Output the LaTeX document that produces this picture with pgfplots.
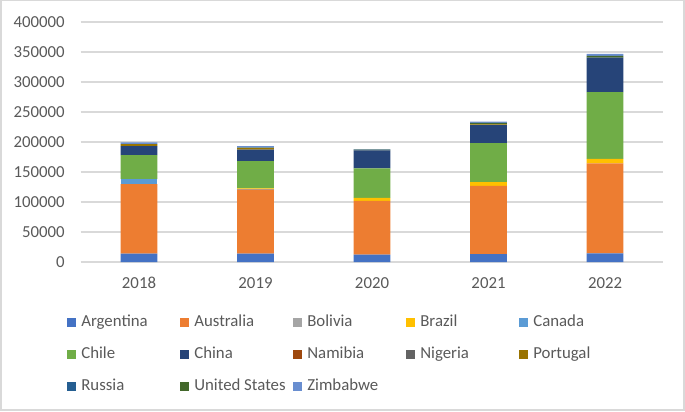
\documentclass[border=0pt]{standalone}
\usepackage{pgfplots}
\usepackage{pgfplotstable}
\pgfplotsset{compat=1.18}
\usepackage{fontspec}
\setmainfont{Carlito}
\definecolor{cArg}{HTML}{4472C4}
\definecolor{cAus}{HTML}{ED7D31}
\definecolor{cBol}{HTML}{A5A5A5}
\definecolor{cBra}{HTML}{FFC000}
\definecolor{cCan}{HTML}{5B9BD5}
\definecolor{cChi}{HTML}{70AD47}
\definecolor{cChn}{HTML}{264478}
\definecolor{cNam}{HTML}{9E480E}
\definecolor{cNig}{HTML}{636363}
\definecolor{cPor}{HTML}{997300}
\definecolor{cRus}{HTML}{255E91}
\definecolor{cUSA}{HTML}{43682B}
\definecolor{cZim}{HTML}{698ED0}
\definecolor{gridgrey}{HTML}{D9D9D9}
\definecolor{tickgrey}{HTML}{595959}
\pgfplotstableread{
x Arg Aus Bol Bra Can Chi Chn Nam Nig Por Rus USA Zim
0 13900 116100 0 0 8000 40000 15000 0 0 3500 0 0 3000
1 13900 106600 1000 1200 0 45300 19500 0 0 2500 0 500 2500
2 12200 89800 0 4700 0 49300 30000 0 0 0 0 1500 500
3 13300 113700 0 6000 0 65000 30300 0 0 1000 0 2500 2000
4 14400 150100 0 7500 0 111000 57500 0 0 0 0 3000 3500
}\lith
\newcommand{\lfont}{\fontsize{12.6}{15}\selectfont}
\newcommand{\lent}[1]{\hspace{3.75pt}\makebox[74.25pt][l]{#1}}
\begin{document}
\begin{tikzpicture}
\useasboundingbox (0,0) rectangle (513.75pt,308.25pt);
\draw[gridgrey, line width=1.1pt] (0.6pt,0.9pt) rectangle (512.9pt,307.7pt);
\begin{axis}[
  at={(60.56pt,111.75pt)}, anchor=south west,
  scale only axis, width=436.9pt, height=180pt,
  ybar stacked, bar width=27.5pt,
  xmin=-0.5, xmax=4.5, ymin=0, ymax=400000,
  enlargelimits=false,
  xtick={0,1,2,3,4}, xticklabels={2018,2019,2020,2021,2022},
  ytick={0,50000,100000,150000,200000,250000,300000,350000,400000},
  yticklabels={0,50000,100000,150000,200000,250000,300000,350000,400000},
  scaled y ticks=false,
  ymajorgrids, grid style={gridgrey, line width=0.8pt},
  axis line style={draw=none},
  major tick length=0pt,
  tick label style={font=\lfont, text=tickgrey},
  yticklabel style={anchor=east, inner sep=0pt, xshift=-11.8pt},
  xticklabel style={anchor=base, inner sep=0pt, yshift=-20pt},
  legend columns=5,
  legend style={draw=none, fill=none, inner sep=0pt, outer sep=0pt,
    at={(axis description cs:-0.023,-0.2197)}, anchor=north west,
    font=\lfont, text=tickgrey, column sep=0pt, row sep=12pt,
    nodes={inner sep=0pt, text height=9pt, text depth=3pt, anchor=base west}},
  legend image code/.code={\fill[#1] (0pt,0pt) rectangle (6.75pt,6.75pt);},
  every axis plot/.append style={draw=none},
]
\addplot[fill=cArg] table[x=x,y=Arg]{\lith}; \addlegendentry{\lent{Argentina}}
\addplot[fill=cAus] table[x=x,y=Aus]{\lith}; \addlegendentry{\lent{Australia}}
\addplot[fill=cBol] table[x=x,y=Bol]{\lith}; \addlegendentry{\lent{Bolivia}}
\addplot[fill=cBra] table[x=x,y=Bra]{\lith}; \addlegendentry{\lent{Brazil}}
\addplot[fill=cCan] table[x=x,y=Can]{\lith}; \addlegendentry{\lent{Canada}}
\addplot[fill=cChi] table[x=x,y=Chi]{\lith}; \addlegendentry{\lent{Chile}}
\addplot[fill=cChn] table[x=x,y=Chn]{\lith}; \addlegendentry{\lent{China}}
\addplot[fill=cNam] table[x=x,y=Nam]{\lith}; \addlegendentry{\lent{Namibia}}
\addplot[fill=cNig] table[x=x,y=Nig]{\lith}; \addlegendentry{\lent{Nigeria}}
\addplot[fill=cPor] table[x=x,y=Por]{\lith}; \addlegendentry{\lent{Portugal}}
\addplot[fill=cRus] table[x=x,y=Rus]{\lith}; \addlegendentry{\lent{Russia}}
\addplot[fill=cUSA] table[x=x,y=USA]{\lith}; \addlegendentry{\lent{United States}}
\addplot[fill=cZim] table[x=x,y=Zim]{\lith}; \addlegendentry{\lent{Zimbabwe}}
\end{axis}
\end{tikzpicture}
\end{document}
